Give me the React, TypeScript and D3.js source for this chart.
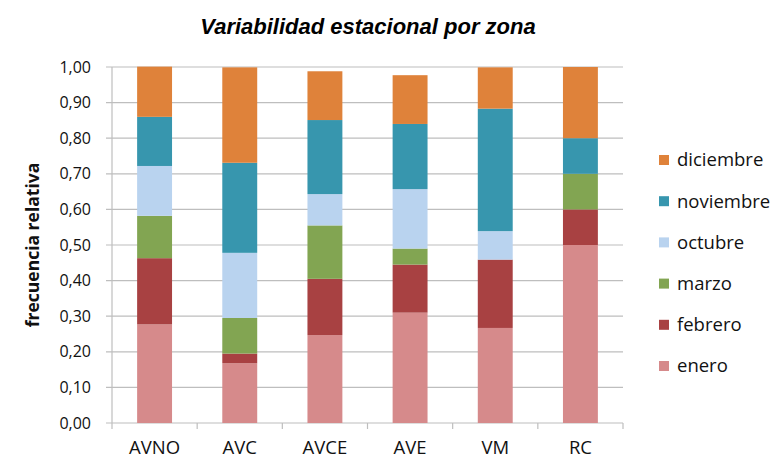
import React from 'react';
import * as d3 from 'd3';

const zones = ['AVNO', 'AVC', 'AVCE', 'AVE', 'VM', 'RC'];
const months = ['enero', 'febrero', 'marzo', 'octubre', 'noviembre', 'diciembre'];
const enero = [0.277, 0.168, 0.247, 0.31, 0.267, 0.5];
const febrero = [0.186, 0.027, 0.158, 0.135, 0.192, 0.1];
const marzo = [0.119, 0.1, 0.15, 0.045, 0, 0.1];
const octubre = [0.14, 0.183, 0.088, 0.167, 0.08, 0];
const noviembre = [0.138, 0.253, 0.208, 0.183, 0.344, 0.1];
const diciembre = [0.141, 0.268, 0.137, 0.137, 0.116, 0.2];
const yTicks = [0, 0.1, 0.2, 0.3, 0.4, 0.5, 0.6, 0.7, 0.8, 0.9, 1.0];
const colors = ['#D68A8B', '#A84142', '#82A552', '#B9D3EF', '#3796AE', '#DF823A'];

const W = 775;
const H = 460;
const margin = { top: 67, right: 152, bottom: 37, left: 112 };
const font = 'Open Sans, Noto Sans, sans-serif';

export default function App() {
  const series = [enero, febrero, marzo, octubre, noviembre, diciembre];
  const rows = zones.map((z, i) => {
    const r: any = { zone: z };
    months.forEach((m, k) => (r[m] = series[k][i]));
    return r;
  });
  const stacked = d3.stack<any>().keys(months)(rows);

  const x = d3.scaleBand().domain(zones).range([margin.left, W - margin.right]).paddingInner(0.59).paddingOuter(0.295);
  const y = d3.scaleLinear().domain([0, 1]).range([H - margin.bottom, margin.top]);
  const color = d3.scaleOrdinal<string>().domain(months).range(colors);
  const fmt = (v: number) => d3.format('.2f')(v).replace('.', ',');
  const x0 = margin.left;
  const x1 = W - margin.right;
  const step = (x1 - x0) / zones.length;
  const legendY = d3.scalePoint().domain([...months].reverse()).range([160, 366]);

  return (
    <svg width={W} height={H} style={{ position: 'absolute', left: 0, top: 0, background: '#fff' }}>
      <text x={368} y={34} textAnchor="middle" fontFamily="Liberation Sans, Arial, sans-serif" fontStyle="italic" fontWeight="bold" fontSize={22}>
        Variabilidad estacional por zona
      </text>
      {yTicks.map(t => (
        <g key={t}>
          <line x1={x0 - 6} x2={x1} y1={y(t)} y2={y(t)} stroke="#BEBEBE" strokeWidth={1.2} />
          <text x={91} y={y(t)} dy="0.35em" textAnchor="end" fontFamily={font} fontSize={16} fill="#111">{fmt(t)}</text>
        </g>
      ))}
      <line x1={x0} x2={x0} y1={y(1)} y2={y(0)} stroke="#BEBEBE" strokeWidth={1.2} />
      {d3.range(zones.length + 1).map(i => (
        <line key={i} x1={x0 + i * step} x2={x0 + i * step} y1={y(0)} y2={y(0) + 6} stroke="#BEBEBE" strokeWidth={1.2} />
      ))}
      {stacked.map(s => (
        <g key={s.key} fill={color(s.key)}>
          {s.map((d, i) => (
            <rect key={i} x={x(zones[i])} width={x.bandwidth()} y={y(d[1])} height={Math.max(0, y(d[0]) - y(d[1]))} />
          ))}
        </g>
      ))}
      {zones.map(z => (
        <text key={z} x={x(z)! + x.bandwidth() / 2} y={448} dy="0.35em" textAnchor="middle" fontFamily={font} fontSize={18.5} fill="#111">{z}</text>
      ))}
      <text transform="translate(33,245) rotate(-90)" textAnchor="middle" dy="0.35em" fontFamily={font} fontWeight="bold" fontSize={17.5} fill="#111">
        frecuencia relativa
      </text>
      {months.map(m => (
        <g key={m} transform={`translate(659,${legendY(m)})`}>
          <rect x={0} y={-5} width={10} height={10} fill={color(m)} />
          <text x={18} y={0} dy="0.35em" fontFamily={font} fontSize={18.5} fill="#111">{m}</text>
        </g>
      ))}
    </svg>
  );
}
